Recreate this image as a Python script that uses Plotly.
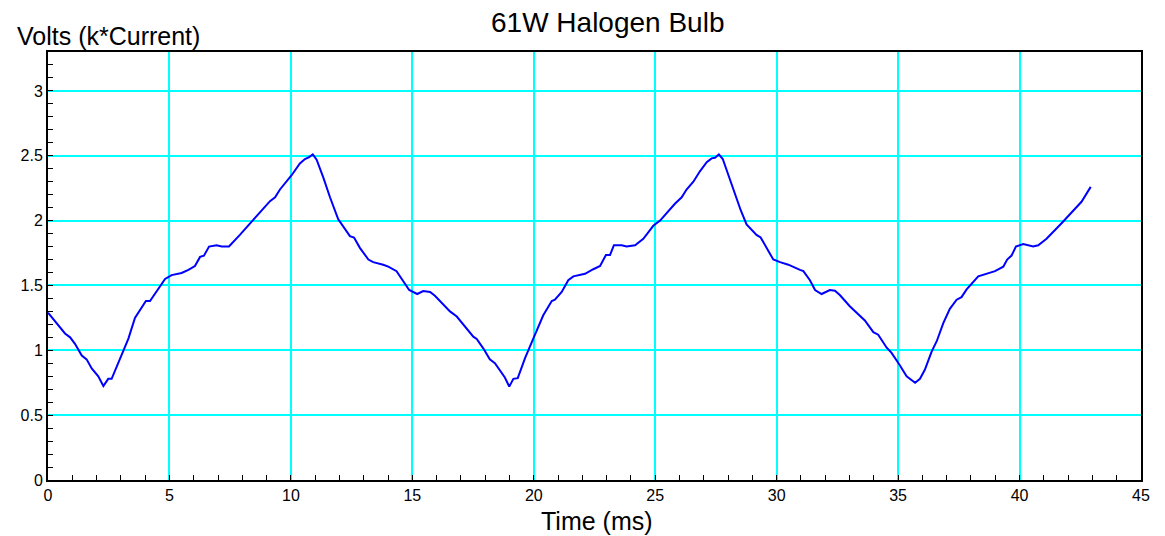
import plotly.graph_objects as go

time_ms = [0.00, 0.36, 0.70, 0.91, 1.11, 1.39, 1.59, 1.80, 2.07, 2.28, 2.48, 2.62, 2.96, 3.31, 3.58,
           3.79, 4.03, 4.20, 4.54, 4.82, 5.09, 5.50, 5.78, 6.05, 6.26, 6.42, 6.63, 6.94, 7.15, 7.45,
           7.90, 8.52, 8.86, 9.14, 9.35, 9.55, 10.03, 10.37, 10.58, 10.75, 10.90, 11.06, 11.34, 11.61,
           11.95, 12.23, 12.43, 12.60, 12.84, 13.19, 13.39, 13.80, 14.01, 14.35, 14.63, 14.87, 15.20,
           15.45, 15.73, 15.93, 16.55, 16.83, 17.51, 17.65, 17.92, 18.19, 18.40, 18.68, 18.81, 18.99,
           19.16, 19.34, 19.64, 19.98, 20.39, 20.74, 20.87, 21.15, 21.42, 21.63, 21.90, 22.11, 22.45,
           22.73, 22.97, 23.14, 23.30, 23.62, 23.82, 24.17, 24.51, 24.92, 25.20, 25.47, 25.81, 26.09,
           26.29, 26.57, 26.84, 27.12, 27.32, 27.46, 27.62, 27.78, 28.08, 28.28, 28.52, 28.76, 28.97,
           29.17, 29.34, 29.59, 29.86, 30.14, 30.48, 30.96, 31.10, 31.37, 31.58, 31.85, 32.19, 32.40,
           32.60, 33.01, 33.63, 33.98, 34.18, 34.53, 34.73, 35.05, 35.35, 35.70, 35.90, 36.10, 36.38,
           36.59, 36.86, 37.13, 37.41, 37.61, 37.82, 38.30, 38.64, 38.99, 39.33, 39.49, 39.67, 39.85,
           40.15, 40.56, 40.77, 41.11, 41.73, 42.07, 42.55, 42.93]
volts = [1.29, 1.21, 1.13, 1.10, 1.05, 0.96, 0.93, 0.86, 0.80, 0.725, 0.78, 0.78, 0.94, 1.09, 1.25,
         1.31, 1.38, 1.38, 1.47, 1.55, 1.58, 1.596, 1.62, 1.65, 1.72, 1.73, 1.80, 1.81, 1.80, 1.80,
         1.89, 2.02, 2.09, 2.15, 2.18, 2.24, 2.35, 2.44, 2.475, 2.49, 2.51, 2.47, 2.33, 2.18,
         2.01, 1.93, 1.88, 1.87, 1.79, 1.70, 1.68, 1.66, 1.645, 1.61, 1.53, 1.465, 1.434,
         1.457, 1.45, 1.42, 1.30, 1.26, 1.105, 1.087, 1.015, 0.93, 0.90, 0.82, 0.79, 0.72,
         0.78, 0.785, 0.94, 1.09, 1.27, 1.38, 1.39, 1.45, 1.54, 1.57, 1.58, 1.59, 1.625,
         1.65, 1.735, 1.735, 1.81, 1.81, 1.80, 1.81, 1.86, 1.96, 2.00, 2.06, 2.13, 2.18,
         2.24, 2.30, 2.38, 2.45, 2.48, 2.485, 2.51, 2.475, 2.31, 2.20, 2.08, 1.97, 1.93,
         1.89, 1.87, 1.79, 1.70, 1.68, 1.66, 1.62, 1.61, 1.54, 1.465, 1.434, 1.465, 1.46,
         1.426, 1.34, 1.23, 1.14, 1.12, 1.02, 0.98, 0.89, 0.80, 0.75, 0.78, 0.85, 0.99,
         1.07, 1.21, 1.32, 1.39, 1.41, 1.47, 1.57, 1.59, 1.61, 1.645, 1.70, 1.73, 1.80,
         1.82, 1.80, 1.81, 1.86, 1.98, 2.05, 2.145, 2.26]

title_text = "61W Halogen Bulb"
y_title = "Volts (k*Current)"
x_title = "Time (ms)"

FONT = "Liberation Sans, Arial, Helvetica, sans-serif"
GRID = "#00FFFF"

fig = go.Figure()
fig.add_trace(go.Scatter(x=time_ms, y=volts, mode="lines",
                         line=dict(color="#0000FF", width=2), hoverinfo="x+y",
                         showlegend=False))

fig.update_layout(
    width=1165, height=536,
    margin=dict(l=48, r=24, t=52, b=56),
    paper_bgcolor="white", plot_bgcolor="white",
    font=dict(family=FONT, color="black", size=16),
    xaxis=dict(range=[0, 45], dtick=5, tick0=0, showgrid=True, gridcolor=GRID, gridwidth=1.5,
               zeroline=False, showline=True, linecolor="black", linewidth=2, mirror=True,
               ticks="inside", ticklen=5, tickcolor="black", tickwidth=1,
               tickfont=dict(size=16, family=FONT),
               minor=dict(dtick=1, ticks="inside", ticklen=5, tickcolor="black",
                          showgrid=False)),
    yaxis=dict(range=[0, 3.3], dtick=0.5, tick0=0, showgrid=True, gridcolor=GRID, gridwidth=1.5,
               zeroline=False, showline=True, linecolor="black", linewidth=2, mirror=True,
               ticks="inside", ticklen=5, tickcolor="black", tickwidth=1,
               tickfont=dict(size=16, family=FONT),
               minor=dict(dtick=0.1, ticks="inside", ticklen=5, tickcolor="black",
                          showgrid=False)),
    annotations=[
        dict(text=title_text, xref="paper", yref="paper", x=0.512, y=1.068,
             xanchor="center", yanchor="middle", showarrow=False,
             font=dict(size=28, family=FONT)),
        dict(text=y_title, xref="paper", yref="paper", x=-0.0302, y=1.037,
             xanchor="left", yanchor="middle", showarrow=False,
             font=dict(size=25, family=FONT)),
        dict(text=x_title, xref="paper", yref="paper", x=0.502, y=-0.096,
             xanchor="center", yanchor="middle", showarrow=False,
             font=dict(size=25, family=FONT)),
    ],
)

fig.write_html("out.html")
